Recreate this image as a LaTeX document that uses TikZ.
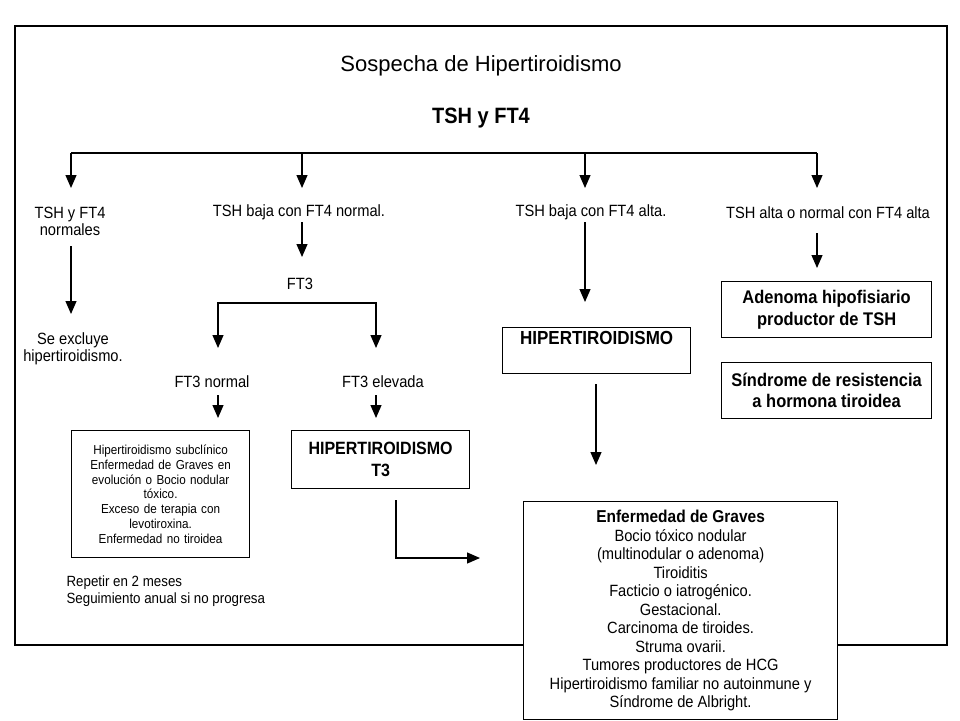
\documentclass[tikz,border=0pt]{standalone}
\usepackage{fontspec}
\setmainfont{Liberation Sans}[FakeStretch=0.9]
\newfontfamily\titlefont{Liberation Sans}
\usetikzlibrary{arrows.meta}
\begin{document}
\begin{tikzpicture}[x=1pt,y=-1pt, line width=1.2pt,
  arr/.style={-{Triangle[length=13pt,width=11pt]}},
  arrboth/.style={{Triangle[length=13pt,width=11pt]}-{Triangle[length=13pt,width=11pt]}},
  lbl/.style={font=\fontsize{16.3}{17}\selectfont, align=center, inner sep=0pt},
  box/.style={draw, fill=white, align=center, inner sep=2pt, anchor=north west},
  bbox/.style={box, font=\fontsize{18.3}{21.5}\selectfont\bfseries},
]
\useasboundingbox (0,0) rectangle (960,720);
% outer frame
\draw[line width=1.3pt] (15,26) rectangle (947,645);

% titles
\node[font=\titlefont\fontsize{22}{26}\selectfont, inner sep=0pt] (title) at (481,66) {Sospecha de Hipertiroidismo};
\node[font=\fontsize{22.2}{24}\selectfont\bfseries, inner sep=0pt] (tsh) at (481,118) {TSH y FT4};

% first level branch
\coordinate (b1) at (71,153);
\coordinate (b2) at (302,153);
\coordinate (b3) at (585,153);
\coordinate (b4) at (817,153);
\coordinate (t1) at (71,188);
\coordinate (t2) at (302,188);
\coordinate (t3) at (585,188);
\coordinate (t4) at (817,188);
\draw (b1) -- (b4);
\draw[arr] (b1) -- (t1);
\draw[arr] (b2) -- (t2);
\draw[arr] (b3) -- (t3);
\draw[arr] (b4) -- (t4);

\node[lbl] (l1) at (70,221) {TSH y FT4\\normales};
\node[lbl] (l2) at (299,212) {TSH baja con FT4 normal.};
\node[lbl] (l3) at (591,212) {TSH baja con FT4 alta.};
\node[lbl] (l4) at (828,213) {TSH alta o normal con FT4 alta};

% column 1
\coordinate (s1) at (71,246);
\coordinate (e1) at (71,314);
\draw[arr] (s1) -- (e1);
\node[lbl] (excl) at (73,349) {Se excluye\\hipertiroidismo.};

% column 2
\coordinate (s2) at (302,222);
\coordinate (e2) at (302,257);
\draw[arr] (s2) -- (e2);
\node[lbl] (ft3) at (300,284) {FT3};
\coordinate (fL) at (218,348);
\coordinate (fLc) at (218,303);
\coordinate (fRc) at (376,303);
\coordinate (fR) at (376,348);
\draw[arrboth] (fL) -- (fLc) -- (fRc) -- (fR);
\node[lbl] (ft3n) at (212,382) {FT3 normal};
\node[lbl] (ft3e) at (383,382) {FT3 elevada};
\coordinate (nS) at (218,395);
\coordinate (nE) at (218,418);
\coordinate (eS) at (376,395);
\coordinate (eE) at (376,418);
\draw[arr] (nS) -- (nE);
\draw[arr] (eS) -- (eE);

\node[box, font=\fontsize{13}{14.8}\selectfont, text width=174pt, inner xsep=2pt, minimum height=127pt] (sub) at (71,430)
 {Hipertiroidismo subclínico\\Enfermedad de Graves en\\evolución o Bocio nodular\\tóxico.\\Exceso de terapia con\\levotiroxina.\\Enfermedad no tiroidea\\[3pt]};
\node[box, font=\fontsize{17.8}{22}\selectfont\bfseries, minimum width=178pt, minimum height=58pt] (h3) at (291,430)
 {HIPERTIROIDISMO\\T3};

\node[lbl, align=left, anchor=west, font=\fontsize{14.8}{17}\selectfont] (rep) at (66,591)
 {Repetir en 2 meses\\Seguimiento anual si no progresa};

\coordinate (gS) at (396,500);
\coordinate (gE) at (480,558);
\draw[arr] (gS) |- (gE);

% column 3
\coordinate (s3) at (585,222);
\coordinate (e3) at (585,302);
\draw[arr] (s3) -- (e3);
\node[box, font=\fontsize{18.9}{20}\selectfont\bfseries, minimum width=188pt, inner ysep=0pt, text height=17pt, text depth=29pt] (hip) at (502,327) {HIPERTIROIDISMO};
\coordinate (hS) at (596,384);
\coordinate (hE) at (596,465);
\draw[arr] (hS) -- (hE);

\node[box, font=\fontsize{16.3}{18.5}\selectfont, minimum width=314pt, minimum height=218pt] (graves) at (523,501)
 {{\bfseries\fontsize{17.2}{18.5}\selectfont Enfermedad de Graves}\\Bocio tóxico nodular\\(multinodular o adenoma)\\Tiroiditis\\Facticio o iatrogénico.\\Gestacional.\\Carcinoma de tiroides.\\Struma ovarii.\\Tumores productores de HCG\\Hipertiroidismo familiar no autoinmune y\\Síndrome de Albright.};

% column 4
\coordinate (s4) at (817,233);
\coordinate (e4) at (817,268);
\draw[arr] (s4) -- (e4);
\node[bbox, minimum width=210pt, minimum height=56pt] (aden) at (721,281) {Adenoma hipofisiario\\productor de TSH};
\node[bbox, minimum width=210pt, minimum height=56pt] (resis) at (721,362) {Síndrome de resistencia\\a hormona tiroidea};
\end{tikzpicture}
\end{document}
